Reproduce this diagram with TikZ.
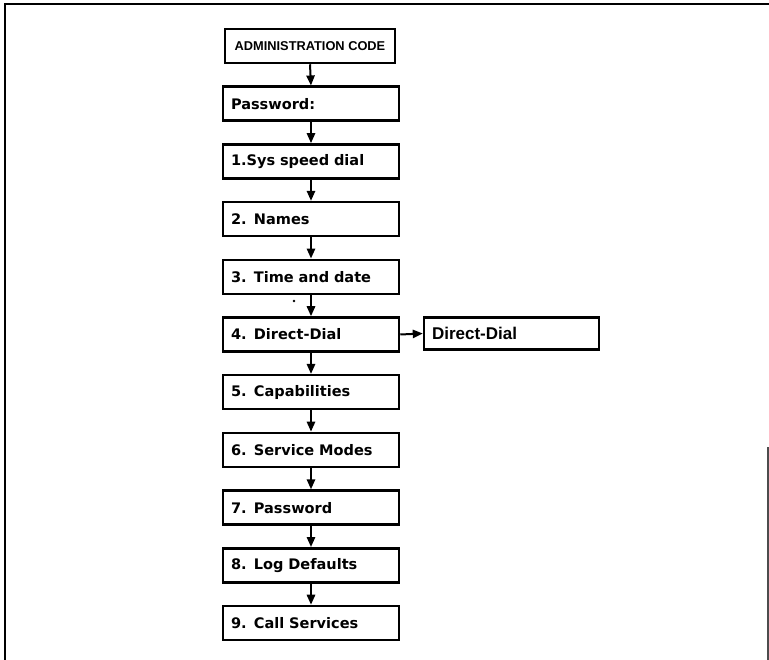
\documentclass[tikz,border=0pt]{standalone}
\usepackage{fontspec}
\setmainfont{DejaVu Sans}
\newfontfamily\lcdfont{DejaVu Sans}
\newfontfamily\helvfont{Liberation Sans}
\usetikzlibrary{arrows.meta}
\begin{document}
\begin{tikzpicture}[x=0.75pt,y=-0.75pt,
  menubox/.style={draw,line width=1.9pt,minimum height=25.5pt,inner xsep=6pt,inner ysep=0pt,
    text width=120pt,align=left,font=\lcdfont\bfseries\fontsize{10.9pt}{12pt}\selectfont},
  headbox/.style={draw,line width=1.9pt,minimum height=25.5pt,minimum width=127.5pt,inner sep=0pt,
    align=center,font=\helvfont\bfseries\fontsize{9.6pt}{11pt}\selectfont},
  sidebox/.style={draw,line width=1.9pt,minimum height=24pt,inner xsep=6pt,inner ysep=0pt,
    text width=119.25pt,align=left,font=\helvfont\bfseries\fontsize{12.75pt}{15pt}\selectfont},
  flowarrow/.style={line width=1.5pt,-{Triangle[length=7.5pt,width=6.2pt]}},
  framerule/.style={line width=2.2pt}]
\useasboundingbox (0,0) rectangle (769,660);
% frame
\draw[framerule] (5,660) -- (5,4) -- (769,4);
\draw[line width=0.9pt,black!70] (768,447) -- (768,660);
% boxes
\node[headbox] (admin) at (310,46) {ADMINISTRATION CODE};
\node[menubox] (pwd)   at (311,103.7) {Password:};
\node[menubox] (sys)   at (311,161.4) {1.Sys speed dial};
\node[menubox] (names) at (311,219.1) {2. Names};
\node[menubox] (time)  at (311,276.8) {3. Time and date};
\node[menubox] (dd)    at (311,334.5) {4. Direct-Dial};
\node[menubox] (cap)   at (311,392.2) {5. Capabilities};
\node[menubox] (serv)  at (311,449.9) {6. Service Modes};
\node[menubox] (pwd7)  at (311,507.6) {7. Password};
\node[menubox] (log)   at (311,565.3) {8. Log Defaults};
\node[menubox] (call)  at (311,623) {9. Call Services};
\node[sidebox] (ddr)   at (511.5,333.5) {Direct-Dial};
% stray dot
\fill (294,301) circle (1.3);
% arrows
\draw[flowarrow] (admin.south) -- (pwd.north);
\draw[flowarrow] (pwd.south) -- (sys.north);
\draw[flowarrow] (sys.south) -- (names.north);
\draw[flowarrow] (names.south) -- (time.north);
\draw[flowarrow] (time.south) -- (dd.north);
\draw[flowarrow] (dd.south) -- (cap.north);
\draw[flowarrow] (cap.south) -- (serv.north);
\draw[flowarrow] (serv.south) -- (pwd7.north);
\draw[flowarrow] (pwd7.south) -- (log.north);
\draw[flowarrow] (log.south) -- (call.north);
\draw[flowarrow] (dd.east) -- (ddr.west);
\end{tikzpicture}
\end{document}
